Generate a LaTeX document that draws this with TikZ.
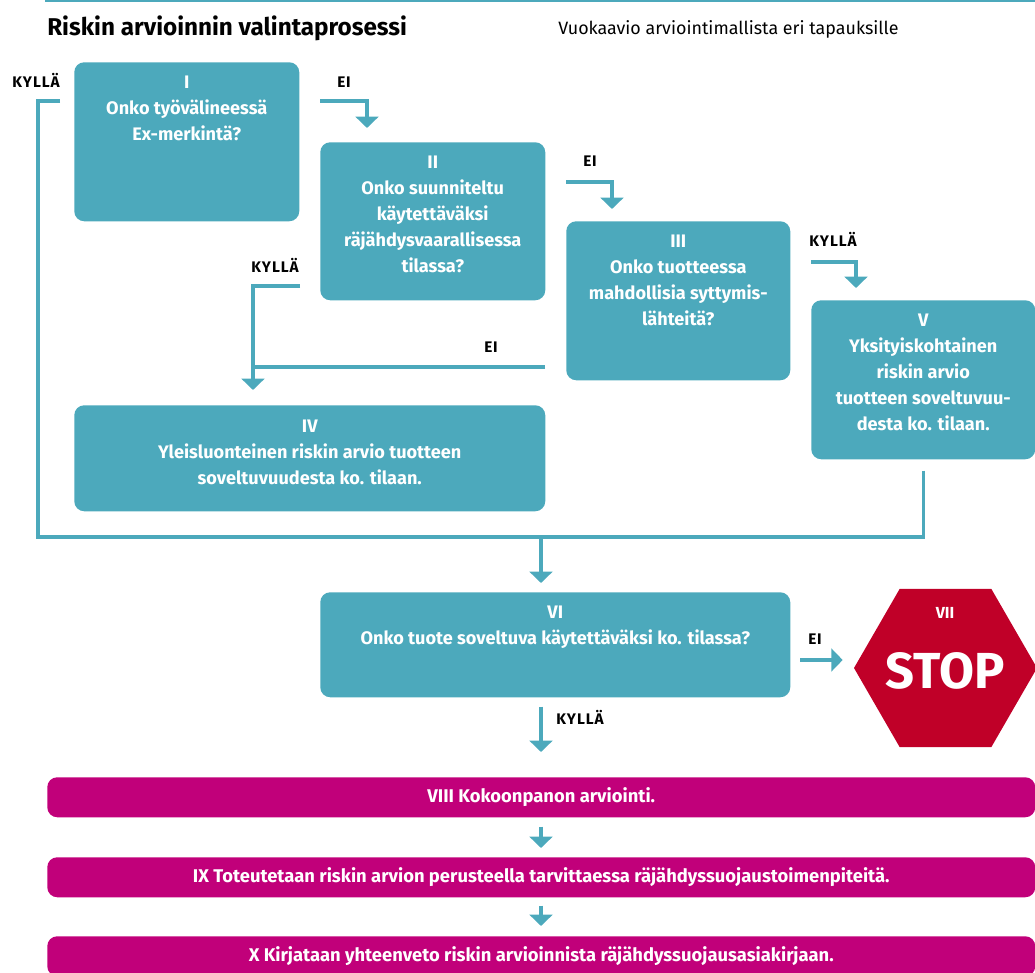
\documentclass[tikz,border=0pt]{standalone}
\usepackage{fontspec}
\setmainfont{Fira Sans}
\usepackage{tikz}
\usetikzlibrary{arrows.meta, positioning, shapes.geometric, calc}
\definecolor{flowteal}{HTML}{4CA9BC}
\definecolor{flowmagenta}{HTML}{C1007A}
\definecolor{stopred}{HTML}{C00028}
\newcommand{\pxu}{0.75pt}

\begin{document}
\begin{tikzpicture}[x=0.75pt, y=-0.75pt,
    qbox/.style={fill=flowteal, rounded corners=7.5pt, anchor=north west, inner sep=0pt},
    qtext/.style={text=white, font=\bfseries\fontsize{13.6}{19.5}\selectfont,
        align=center, anchor=north, inner sep=0pt},
    bar/.style={fill=flowmagenta, rounded corners=7.5pt, anchor=north west, inner sep=0pt,
        minimum width=988*\pxu, minimum height=40*\pxu, text=white,
        font=\bfseries\fontsize{13.8}{15}\selectfont},
    conn/.style={draw=flowteal, line width=2.6pt},
    arr/.style={conn, -{Triangle[width=17pt, length=8.5pt]}},
    answer/.style={font=\bfseries\fontsize{11.5}{12}\selectfont\addfontfeature{LetterSpace=6},
        inner sep=0pt, anchor=base},
]
    \clip (0,0) rectangle (1035,973);

    % header
    \draw[flowteal, line width=2.2pt] (45,1) -- (1035,1);
    \node[anchor=base west, inner sep=0pt, font=\bfseries\fontsize{18.2}{20}\selectfont]
        (title) at (47,36) {Riskin arvioinnin valintaprosessi};
    \node[anchor=base west, inner sep=0pt, font=\fontsize{13.4}{14}\selectfont]
        (subtitle) at (558,35) {Vuokaavio arviointimallista eri tapauksille};

    % question boxes
    \node[qbox, minimum width=225*\pxu, minimum height=159*\pxu] (q1) at (74,62) {};
    \node[qbox, minimum width=225*\pxu, minimum height=158*\pxu] (q2) at (320,142) {};
    \node[qbox, minimum width=224*\pxu, minimum height=159*\pxu] (q3) at (566,221) {};
    \node[qbox, minimum width=224*\pxu, minimum height=159*\pxu] (q5) at (811,300) {};
    \node[qbox, minimum width=471*\pxu, minimum height=106*\pxu] (q4) at (74,405) {};
    \node[qbox, minimum width=470*\pxu, minimum height=105*\pxu] (q6) at (320,592) {};

    \node[qtext] (t1) at ($(q1.north)+(0,14)$) {I\\Onko työvälineessä\\Ex-merkintä?};
    \node[qtext] (t2) at ($(q2.north)+(0,14)$) {II\\Onko suunniteltu\\käytettäväksi\\räjähdysvaarallisessa\\tilassa?};
    \node[qtext] (t3) at ($(q3.north)+(0,14)$) {III\\Onko tuotteessa\\mahdollisia syttymis-\\lähteitä?};
    \node[qtext] (t5) at ($(q5.north)+(0,14)$) {V\\Yksityiskohtainen\\riskin arvio\\tuotteen soveltuvuu-\\desta ko. tilaan.};
    \node[qtext] (t4) at ($(q4.north)+(0,15)$) {IV\\Yleisluonteinen riskin arvio tuotteen\\soveltuvuudesta ko. tilaan.};
    \node[qtext] (t6) at ($(q6.north)+(0,14)$) {VI\\Onko tuote soveltuva käytettäväksi ko. tilassa?};

    % stop sign
    \node[regular polygon, regular polygon sides=6, fill=stopred, minimum size=183*\pxu, inner sep=0pt]
        (stop) at (945.5,668) {};
    \node[text=white, font=\bfseries\fontsize{12}{12}\selectfont] (stopnum) at (945,613) {VII};
    \node[text=white, font=\bfseries\fontsize{38}{40}\selectfont] (stoptext) at (945,671) {STOP};

    % steps after the choice
    \node[bar] (s8) at (47,777) {VIII Kokoonpanon arviointi.};
    \node[bar] (s9) at (47,857) {IX Toteutetaan riskin arvion perusteella tarvittaessa räjähdyssuojaustoimenpiteitä.};
    \node[bar] (s10) at (47,936) {X Kirjataan yhteenveto riskin arvioinnista räjähdyssuojausasiakirjaan.};

    % connectors
    \coordinate (kI) at (60,101);
    \coordinate (eI) at (320,101);
    \coordinate (eII) at (566,182);
    \coordinate (kIII) at (811,262);
    \coordinate (kII) at (300,286);
    \coordinate (eIII) at (545,367);
    \coordinate (joinIV) at (253,367);
    \coordinate (rail) at (38,537);
    \coordinate (bus) at (541,537);
    \coordinate (eVI) at (800,660);

    \draw[conn] (kI) -| (rail) -- (bus);
    \draw[conn] ([yshift=-11*\pxu]q5.south) |- (bus);
    \draw[arr, shorten >=9*\pxu] (bus) -- (bus |- q6.north);

    \draw[arr] (eI) -| ([xshift=47*\pxu, yshift=14*\pxu]q2.north west);
    \draw[arr] (eII) -| ([xshift=46*\pxu, yshift=12*\pxu]q3.north west);
    \draw[arr] (kIII) -| ([xshift=45*\pxu, yshift=12*\pxu]q5.north west);
    \draw[arr] (kII) -| ([xshift=179*\pxu, yshift=15*\pxu]q4.north west);
    \draw[conn] (eIII) -- (joinIV);

    \draw[arr] (eVI) -- ([xshift=-11*\pxu]stop.west |- eVI);
    \draw[arr, shorten <=9*\pxu, shorten >=25*\pxu] (bus |- q6.south) -- (bus |- s8.north);
    \draw[arr, shorten <=9*\pxu, shorten >=9*\pxu] (bus |- s8.south) -- (bus |- s9.north);
    \draw[arr, shorten <=8*\pxu, shorten >=10*\pxu] (bus |- s9.south) -- (bus |- s10.north);

    % answers
    \node[answer] (lk1) at (36,88) {KYLLÄ};
    \node[answer] (le1) at (344,88) {EI};
    \node[answer] (le2) at (590,167) {EI};
    \node[answer] (lk3) at (833,247) {KYLLÄ};
    \node[answer] (lk2) at (275,273) {KYLLÄ};
    \node[answer] (le3) at (491,353) {EI};
    \node[answer] (le6) at (815,644) {EI};
    \node[answer] (lk6) at (580,724) {KYLLÄ};
\end{tikzpicture}
\end{document}
